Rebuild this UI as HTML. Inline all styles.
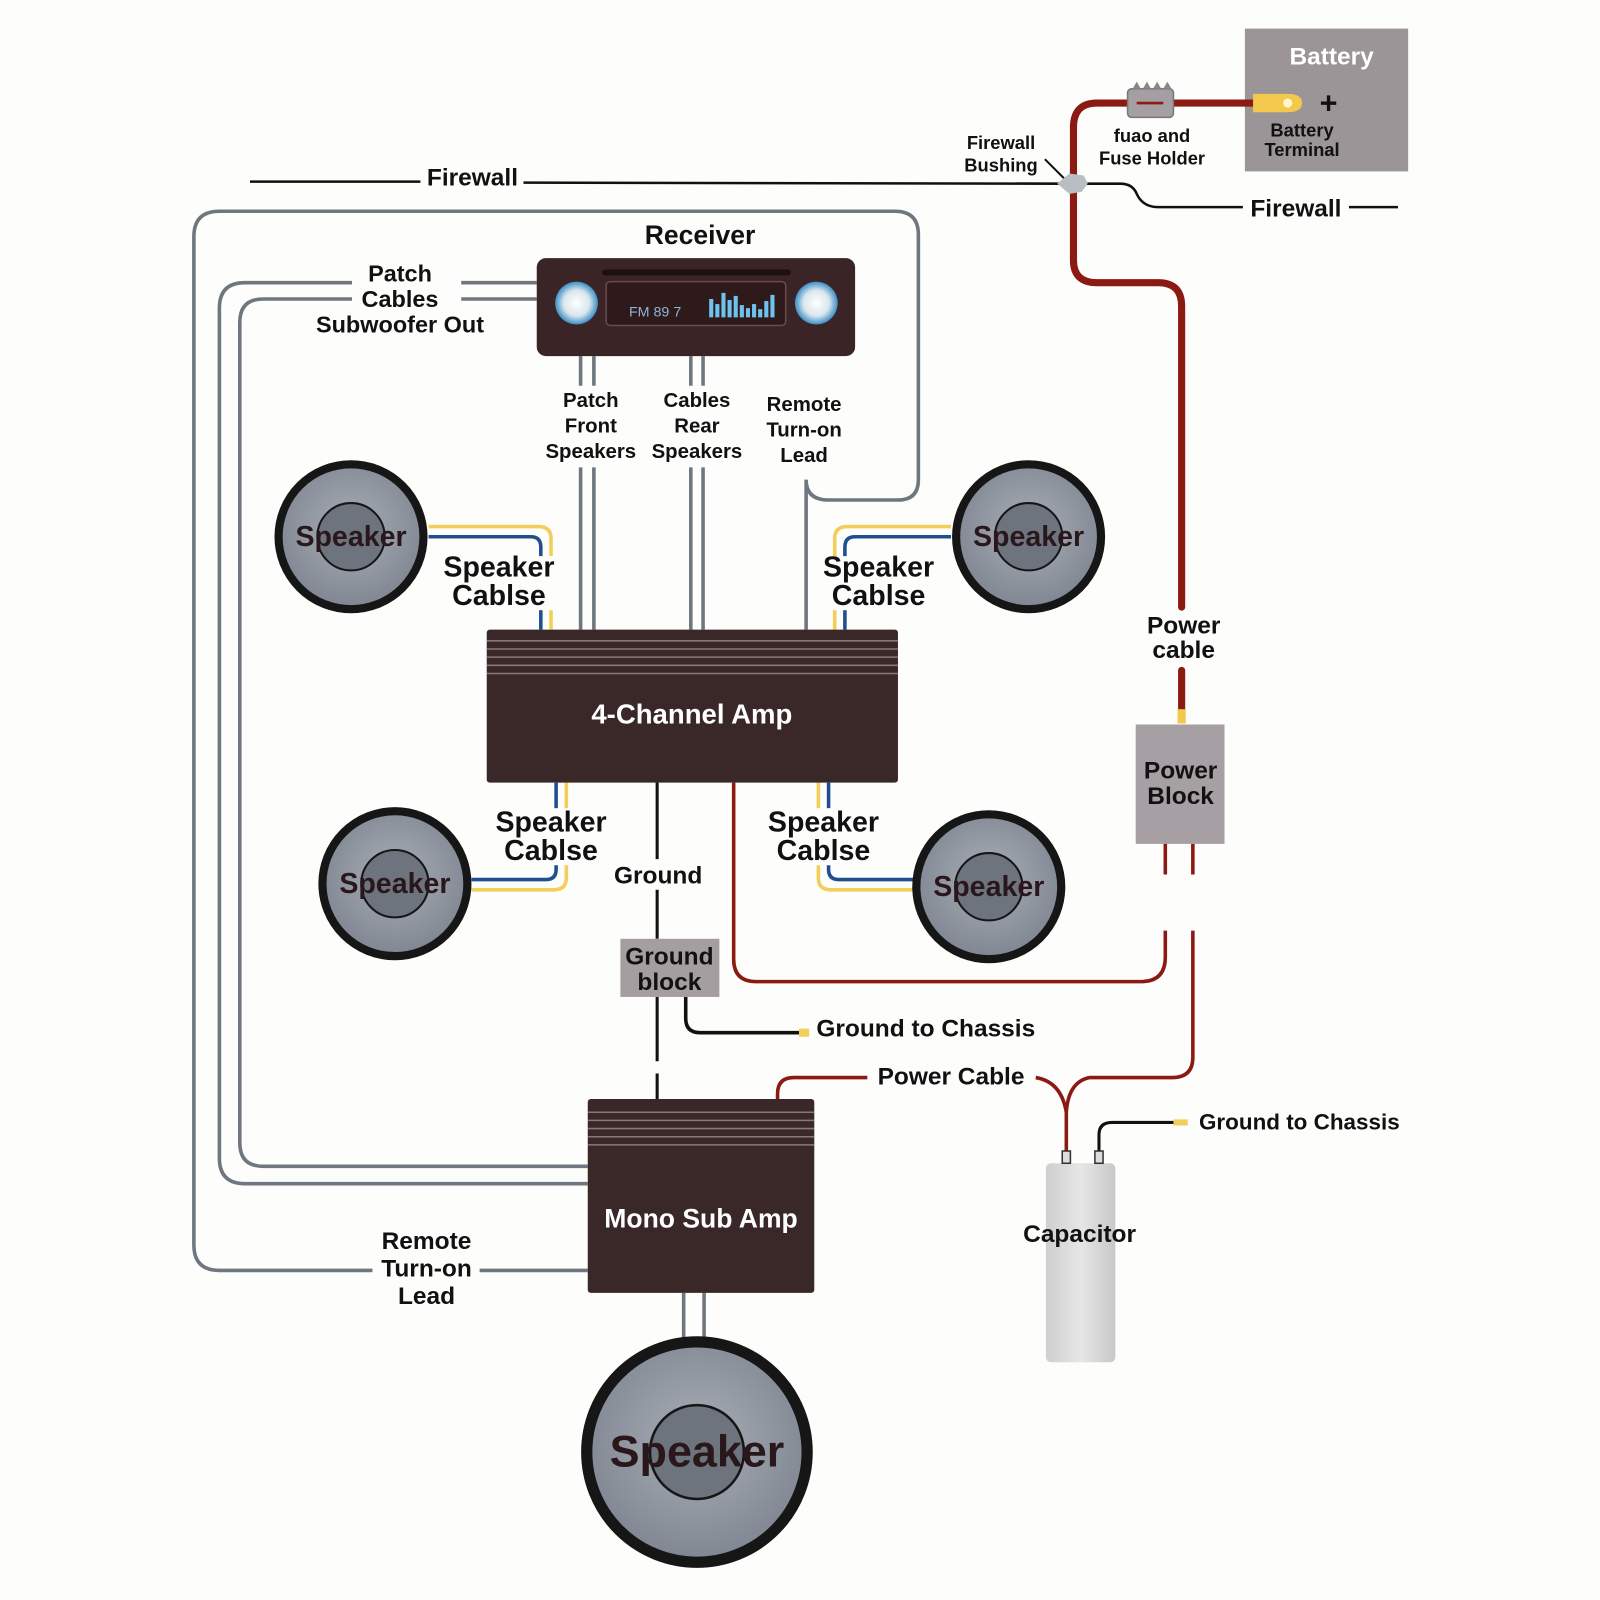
<!DOCTYPE html>
<html><head><meta charset="utf-8"><style>
html,body{margin:0;padding:0;background:#fdfdfb;}
svg{display:block;}
text{font-family:"Liberation Sans","DejaVu Sans",sans-serif;font-weight:bold;fill:#111;text-anchor:middle;}
</style></head><body>
<svg width="1600" height="1600" viewBox="0 0 1568 1568" xmlns="http://www.w3.org/2000/svg">
<defs>
<radialGradient id="spk" cx="50%" cy="45%" r="55%"><stop offset="0" stop-color="#a9afb8"/><stop offset="1" stop-color="#7f8691"/></radialGradient>
<radialGradient id="knob" cx="50%" cy="50%" r="50%"><stop offset="0" stop-color="#ffffff"/><stop offset="0.6" stop-color="#d9e6ee"/><stop offset="1" stop-color="#3d8fc4"/></radialGradient>
<linearGradient id="cap" x1="0" x2="1"><stop offset="0" stop-color="#cfcfcf"/><stop offset="0.5" stop-color="#e6e6e6"/><stop offset="1" stop-color="#c8c8c8"/></linearGradient>
</defs>
<rect width="1568" height="1568" fill="#fdfdfb"/>

<!-- Firewall -->
<g stroke="#111" stroke-width="2.5" fill="none">
<line x1="245" y1="178" x2="412" y2="178"/>
<line x1="513" y1="179" x2="1040" y2="180"/>
<path d="M1058 180 L1098 180 Q1110 180 1114 190 Q1120 203 1135 203 L1218 203"/>
<line x1="1322" y1="203" x2="1370" y2="203"/>
<line x1="1024" y1="156" x2="1044" y2="176" stroke-width="2"/>
</g>
<text x="463" y="182" font-size="24">Firewall</text>
<text x="1270" y="212" font-size="24">Firewall</text>
<text x="981" y="146" font-size="18" font-weight="normal">Firewall</text>
<text x="981" y="168" font-size="18">Bushing</text>

<!-- Battery -->
<rect x="1220" y="28" width="160" height="140" fill="#9b9598"/>
<text x="1305" y="63" font-size="24" style="fill:#fff">Battery</text>
<text x="1302" y="111" font-size="30">+</text>
<text x="1276" y="134" font-size="18">Battery</text>
<text x="1276" y="153" font-size="18">Terminal</text>

<!-- Red power cable top -->
<g stroke="#8b1a12" stroke-width="7" fill="none" stroke-linecap="round">
<path d="M1228 101 L1075 101 Q1052 101 1052 125 L1052 255 Q1052 277 1075 277 L1135 277 Q1158 277 1158 300 L1158 595"/>
<line x1="1158" y1="657" x2="1158" y2="695"/>
</g>
<rect x="1154" y="695" width="8" height="14" fill="#f2c94c"/>
<path d="M1228 92 L1262 92 Q1276 92 1276 101 Q1276 110 1262 110 L1228 110 Z" fill="#f2c94c"/>
<circle cx="1262" cy="101" r="4.5" fill="#fff6d0"/>
<!-- fuse -->
<rect x="1105" y="87" width="45" height="28" rx="4" fill="#a59ea2" stroke="#777" stroke-width="1.5"/>
<line x1="1114" y1="101" x2="1140" y2="101" stroke="#8b1a12" stroke-width="2.5"/>
<g fill="#888"><polygon points="1110,87 1114,80 1118,87"/><polygon points="1120,87 1124,80 1128,87"/><polygon points="1130,87 1134,80 1138,87"/><polygon points="1140,87 1144,80 1148,87"/></g>
<text x="1129" y="139" font-size="18">fuao and</text>
<text x="1129" y="161" font-size="18">Fuse Holder</text>
<!-- bushing -->
<polygon points="1036,180 1048,170 1062,172 1066,180 1060,188 1048,190" fill="#b9bec3"/>

<text x="1160" y="621" font-size="24">Power</text>
<text x="1160" y="645" font-size="24">cable</text>

<!-- Gray remote loop -->
<g stroke="#6e767f" stroke-width="3.5" fill="none">
<path d="M790 617 L790 470 Q790 490 812 490 L880 490 Q900 490 900 470 L900 230 Q900 207 877 207 L215 207 Q190 207 190 232 L190 1220 Q190 1245 215 1245 L365 1245"/>
<line x1="470" y1="1245" x2="576" y2="1245"/>
<!-- patch subwoofer out -->
<line x1="526" y1="277" x2="452" y2="277"/>
<line x1="526" y1="293" x2="452" y2="293"/>
<path d="M345 277 L240 277 Q215 277 215 302 L215 1135 Q215 1160 240 1160 L576 1160"/>
<path d="M345 293 L258 293 Q235 293 235 316 L235 1120 Q235 1143 258 1143 L576 1143"/>
<!-- patch to amp -->
<line x1="569" y1="349" x2="569" y2="378"/><line x1="582" y1="349" x2="582" y2="378"/>
<line x1="677" y1="349" x2="677" y2="378"/><line x1="689" y1="349" x2="689" y2="378"/>
<line x1="569" y1="458" x2="569" y2="617"/><line x1="582" y1="458" x2="582" y2="617"/>
<line x1="677" y1="458" x2="677" y2="617"/><line x1="689" y1="458" x2="689" y2="617"/>
<line x1="670" y1="1267" x2="670" y2="1312"/><line x1="690" y1="1267" x2="690" y2="1312"/>
</g>
<text x="418" y="1224" font-size="24">Remote</text>
<text x="418" y="1251" font-size="24">Turn-on</text>
<text x="418" y="1278" font-size="24">Lead</text>
<text x="392" y="276" font-size="23">Patch</text>
<text x="392" y="301" font-size="23">Cables</text>
<text x="392" y="326" font-size="23">Subwoofer Out</text>
<text x="579" y="399" font-size="20">Patch</text>
<text x="579" y="424" font-size="20">Front</text>
<text x="579" y="449" font-size="20">Speakers</text>
<text x="683" y="399" font-size="20">Cables</text>
<text x="683" y="424" font-size="20">Rear</text>
<text x="683" y="449" font-size="20">Speakers</text>
<text x="788" y="403" font-size="20">Remote</text>
<text x="788" y="428" font-size="20">Turn-on</text>
<text x="788" y="453" font-size="20">Lead</text>

<!-- Receiver -->
<text x="686" y="239" font-size="26">Receiver</text>
<rect x="526" y="253" width="312" height="96" rx="9" fill="#3b2426"/>
<rect x="590" y="264" width="185" height="6" rx="3" fill="#1e1011"/>
<rect x="594" y="276" width="176" height="43" rx="4" fill="#2e1a1b" stroke="#6a4a4a" stroke-width="1.5"/>
<circle cx="565" cy="297" r="21" fill="url(#knob)"/>
<circle cx="800" cy="297" r="21" fill="url(#knob)"/>
<text x="642" y="310" font-size="14" style="fill:#8fb3d6;font-weight:normal">FM 89 7</text>
<g fill="#6ec3ee"><rect x="695" y="293" width="4" height="18"/><rect x="701" y="298" width="4" height="13"/><rect x="707" y="287" width="4" height="24"/><rect x="713" y="294" width="4" height="17"/><rect x="719" y="290" width="4" height="21"/><rect x="725" y="299" width="4" height="12"/><rect x="731" y="302" width="4" height="9"/><rect x="737" y="298" width="4" height="13"/><rect x="743" y="303" width="4" height="8"/><rect x="749" y="295" width="4" height="16"/><rect x="755" y="289" width="4" height="22"/></g>

<!-- Speaker cables -->
<g fill="none" stroke-width="3.5">
<path d="M420 516 L528 516 Q540 516 540 528 L540 545" stroke="#f2cf5a"/>
<path d="M420 526 L520 526 Q530 526 530 536 L530 545" stroke="#1f4f8e"/>
<line x1="540" y1="598" x2="540" y2="617" stroke="#f2cf5a"/><line x1="530" y1="598" x2="530" y2="617" stroke="#1f4f8e"/>
<path d="M932 516 L830 516 Q818 516 818 528 L818 545" stroke="#f2cf5a"/>
<path d="M932 526 L838 526 Q828 526 828 536 L828 545" stroke="#1f4f8e"/>
<line x1="818" y1="598" x2="818" y2="617" stroke="#f2cf5a"/><line x1="828" y1="598" x2="828" y2="617" stroke="#1f4f8e"/>
<line x1="545" y1="767" x2="545" y2="792" stroke="#1f4f8e"/><line x1="555" y1="767" x2="555" y2="792" stroke="#f2cf5a"/>
<path d="M545 848 L545 852 Q545 862 535 862 L462 862" stroke="#1f4f8e"/>
<path d="M555 848 L555 860 Q555 872 543 872 L462 872" stroke="#f2cf5a"/>
<line x1="802" y1="767" x2="802" y2="792" stroke="#f2cf5a"/><line x1="812" y1="767" x2="812" y2="792" stroke="#1f4f8e"/>
<path d="M812 848 L812 852 Q812 862 822 862 L895 862" stroke="#1f4f8e"/>
<path d="M802 848 L802 860 Q802 872 814 872 L895 872" stroke="#f2cf5a"/>
</g>
<text x="489" y="565" font-size="28">Speaker</text>
<text x="489" y="593" font-size="28">Cablse</text>
<text x="861" y="565" font-size="28">Speaker</text>
<text x="861" y="593" font-size="28">Cablse</text>
<text x="540" y="815" font-size="28">Speaker</text>
<text x="540" y="843" font-size="28">Cablse</text>
<text x="807" y="815" font-size="28">Speaker</text>
<text x="807" y="843" font-size="28">Cablse</text>

<!-- Speakers -->
<g stroke="#161616">
<circle cx="344" cy="526" r="71" fill="url(#spk)" stroke-width="8"/><circle cx="344" cy="526" r="33" fill="#6d747e" stroke-width="2"/>
<circle cx="1008" cy="526" r="71" fill="url(#spk)" stroke-width="8"/><circle cx="1008" cy="526" r="33" fill="#6d747e" stroke-width="2"/>
<circle cx="387" cy="866" r="71" fill="url(#spk)" stroke-width="8"/><circle cx="387" cy="866" r="33" fill="#6d747e" stroke-width="2"/>
<circle cx="969" cy="869" r="71" fill="url(#spk)" stroke-width="8"/><circle cx="969" cy="869" r="33" fill="#6d747e" stroke-width="2"/>
<circle cx="683" cy="1423" r="108" fill="url(#spk)" stroke-width="11"/><circle cx="683" cy="1423" r="46" fill="#6d747e" stroke-width="2.5"/>
</g>
<g style="fill:#2a171b">
<text x="344" y="535" font-size="28" style="fill:#2a171b">Speaker</text>
<text x="1008" y="535" font-size="28" style="fill:#2a171b">Speaker</text>
<text x="387" y="875" font-size="28" style="fill:#2a171b">Speaker</text>
<text x="969" y="878" font-size="28" style="fill:#2a171b">Speaker</text>
<text x="683" y="1437" font-size="44" style="fill:#2a171b">Speaker</text>
</g>

<!-- 4-Channel Amp -->
<rect x="477" y="617" width="403" height="150" rx="3" fill="#3a2828"/>
<g stroke="#8a7878" stroke-width="1.5"><line x1="477" y1="628" x2="880" y2="628"/><line x1="477" y1="636" x2="880" y2="636"/><line x1="477" y1="644" x2="880" y2="644"/><line x1="477" y1="652" x2="880" y2="652"/><line x1="477" y1="660" x2="880" y2="660"/></g>
<text x="678" y="709" font-size="27" style="fill:#fff">4-Channel Amp</text>

<!-- Ground -->
<g stroke="#111" stroke-width="3" fill="none">
<line x1="644" y1="767" x2="644" y2="842"/>
<line x1="644" y1="872" x2="644" y2="920"/>
<line x1="644" y1="977" x2="644" y2="1040"/>
<line x1="644" y1="1052" x2="644" y2="1077"/>
<path d="M672 977 L672 998 Q672 1012 686 1012 L785 1012" stroke-width="3.5"/>
<path d="M1077 1128 L1077 1112 Q1077 1100 1090 1100 L1150 1100" stroke-width="3"/>
</g>
<rect x="783" y="1008" width="10" height="8" fill="#f2cf5a"/>
<rect x="1150" y="1097" width="14" height="6" fill="#f2cf5a"/>
<text x="645" y="866" font-size="24">Ground</text>
<rect x="608" y="920" width="97" height="57" fill="#a49ea0"/>
<text x="656" y="945" font-size="24">Ground</text>
<text x="656" y="970" font-size="24">block</text>
<text x="800" y="1016" font-size="24" style="text-anchor:start">Ground to Chassis</text>
<text x="1175" y="1107" font-size="22" style="text-anchor:start">Ground to Chassis</text>

<!-- Power block -->
<rect x="1113" y="710" width="87" height="117" fill="#a69fa3"/>
<text x="1157" y="763" font-size="24">Power</text>
<text x="1157" y="788" font-size="24">Block</text>

<g stroke="#8b1a12" stroke-width="3.5" fill="none">
<line x1="1142" y1="827" x2="1142" y2="857"/>
<line x1="1169" y1="827" x2="1169" y2="857"/>
<path d="M719 767 L719 940 Q719 962 741 962 L1118 962 Q1142 962 1142 938 L1142 912"/>
<path d="M1169 912 L1169 1036 Q1169 1056 1149 1056 L1068 1056 Q1047 1060 1045 1090 L1045 1130"/>
<path d="M1015 1056 Q1040 1060 1045 1090"/>
<path d="M850 1056 L778 1056 Q762 1056 762 1072 L762 1077"/>
</g>
<text x="932" y="1063" font-size="24">Power Cable</text>

<!-- Capacitor -->
<rect x="1025" y="1140" width="68" height="195" rx="5" fill="url(#cap)"/>
<rect x="1041" y="1128" width="8" height="12" fill="#ddd" stroke="#333" stroke-width="1.5"/>
<rect x="1073" y="1128" width="8" height="12" fill="#ddd" stroke="#333" stroke-width="1.5"/>
<text x="1058" y="1217" font-size="24">Capacitor</text>

<!-- Mono Sub Amp -->
<rect x="576" y="1077" width="222" height="190" rx="3" fill="#3a2828"/>
<g stroke="#8a7878" stroke-width="1.5"><line x1="576" y1="1090" x2="798" y2="1090"/><line x1="576" y1="1098" x2="798" y2="1098"/><line x1="576" y1="1106" x2="798" y2="1106"/><line x1="576" y1="1114" x2="798" y2="1114"/><line x1="576" y1="1122" x2="798" y2="1122"/></g>
<text x="687" y="1203" font-size="26" style="fill:#fff">Mono Sub Amp</text>
</svg>
</body></html>
